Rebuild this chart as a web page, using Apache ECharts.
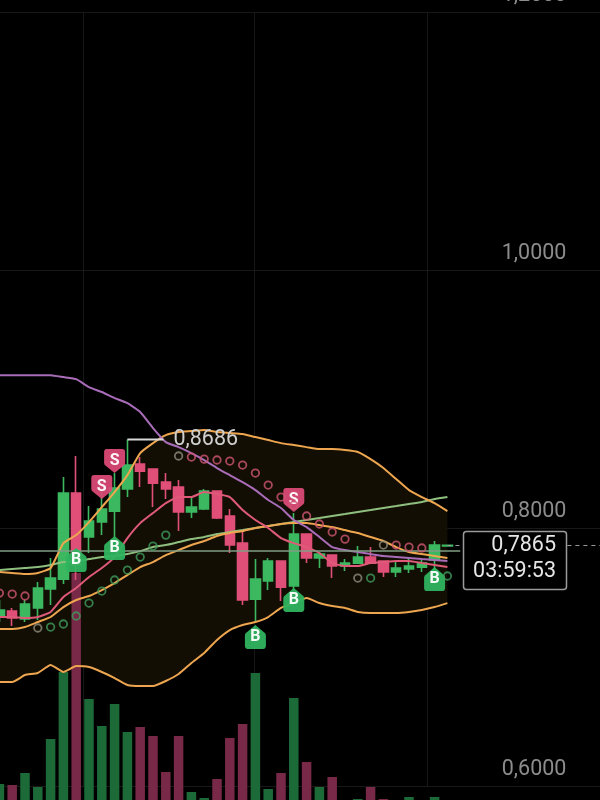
<!DOCTYPE html>
<html>
<head>
<meta charset="utf-8">
<style>html,body{margin:0;padding:0;background:#000;overflow:hidden}#c{width:600px;height:800px;filter:blur(0.6px)}</style>
<script src="https://cdn.jsdelivr.net/npm/echarts@6/dist/echarts.min.js"></script>
</head>
<body>
<div id="c"></div>
<script>
// [open, close, low, high]
const candles = [
[.7310,.7364,.7271,.7442],[.7356,.7302,.7240,.7380],[.7294,.7411,.7271,.7442],[.7380,.7535,.7287,.7581],
[.7527,.7612,.7403,.7767],[.7604,.8271,.7566,.8395],[.8271,.7713,.7597,.8558],[.7930,.8054,.7806,.8170],
[.8046,.8147,.7945,.8294],[.8131,.8310,.7930,.8426],[.8302,.8488,.8240,.8686],[.8496,.8441,.8317,.8550],
[.8457,.8348,.8162,.8457],[.8356,.8302,.8224,.8426],[.8317,.8124,.7976,.8372],[.8124,.8162,.8077,.8240],
[.8147,.8286,.8139,.8302],[.8286,.8077,.8070,.8286],[.8093,.7868,.7806,.8147],[.7883,.7442,.7403,.7969],
[.7449,.7604,.7271,.7759],[.7589,.7744,.7519,.7767],[.7744,.7542,.7434,.7744],[.7550,.7953,.7519,.8116],
[.7953,.7767,.7728,.7953],[.7767,.7798,.7690,.7814],[.7790,.7705,.7612,.7790],[.7705,.7728,.7666,.7759],
[.7728,.7775,.7721,.7860],[.7775,.7728,.7721,.7852],[.7744,.7659,.7620,.7744],[.7659,.7690,.7620,.7736],
[.7682,.7705,.7651,.7767],[.7697,.7728,.7659,.7767],[.7752,.7868,.7674,.7899],[.7860,.7865,.7860,.7868]
];
const volumes = [26,25,37,23,71,138,237,111,84,106,78,83,74,38,74,18,12,31,72,86,137,21,37,112,48,23,33,8,11,23,11,6,13,4,13,3];
const bollUpper = [.7659,.7651,.7643,.7651,.7690,.7883,.7945,.8046,.8162,.8279,.8410,.8581,.8658,.8720,.8744,.8751,.8759,.8744,.8736,.8728,.8705,.8682,.8658,.8643,.8627,.8612,.8612,.8604,.8589,.8534,.8465,.8379,.8294,.8240,.8193,.8131];
const bollMid = [.7217,.7217,.7232,.7271,.7310,.7387,.7442,.7473,.7519,.7573,.7635,.7697,.7736,.7790,.7829,.7868,.7899,.7938,.7961,.7976,.8000,.8015,.8031,.8038,.8038,.8023,.8007,.7984,.7961,.7930,.7899,.7852,.7814,.7798,.7783,.7767];
const bollLower = [.6806,.6806,.6860,.6876,.6938,.6884,.6930,.6922,.6884,.6837,.6783,.6775,.6775,.6814,.6868,.6953,.7031,.7132,.7209,.7248,.7271,.7310,.7380,.7418,.7457,.7418,.7395,.7380,.7349,.7341,.7341,.7341,.7349,.7364,.7387,.7418];
const maPink = [.7310,.7310,.7302,.7310,.7349,.7465,.7535,.7620,.7690,.7775,.7922,.8038,.8116,.8193,.8240,.8240,.8279,.8263,.8240,.8139,.8062,.8000,.7922,.7883,.7852,.7806,.7728,.7705,.7705,.7728,.7736,.7744,.7744,.7728,.7713,.7697];
const maPurple = [.9185,.9185,.9185,.9185,.9185,.9170,.9154,.9092,.9054,.9007,.8968,.8899,.8775,.8666,.8627,.8581,.8527,.8465,.8410,.8356,.8294,.8217,.8155,.8062,.8007,.7930,.7852,.7829,.7814,.7798,.7783,.7775,.7767,.7759,.7752,.7744];
const maGreen = [.7674,.7682,.7690,.7697,.7713,.7736,.7744,.7759,.7775,.7783,.7798,.7821,.7852,.7868,.7891,.7914,.7930,.7953,.7969,.7984,.8000,.8015,.8031,.8046,.8062,.8077,.8093,.8108,.8124,.8139,.8155,.8170,.8186,.8201,.8224,.8240];
const sarRed = [[0,.7496],[1,.7488],[2,.7473],[15,.8550],[16,.8534],[17,.8527],[18,.8519],[19,.8488],[20,.8426],[21,.8333],[22,.8240],[23,.8178],[24,.8093],[25,.8031],[26,.7969],[27,.7914],[31,.7868],[32,.7852],[33,.7845]];
const sarGreen = [[4,.7232],[5,.7256],[6,.7318],[7,.7418],[8,.7511],[9,.7597],[10,.7674],[11,.7775],[12,.7860],[13,.7945],[29,.7612],[35,.7628]];
const sarGray = [[3,.7225],[14,.8558],[28,.7612],[30,.7868]];
const sellSignals = [[9,.8519],[8,.8317],[23,.8217]];
const buySignals = [[6,.7752],[9,.7845],[20,.7155],[23,.7442],[34,.7604]];
const priceTicks = {min:.6, max:1.2, step:.2};
const highLabel = '0,8686';
const highValue = .8686;
const lastPrice = .7865;
const refLevel = .7822;
const lastPriceText = '0,7865';
const countdownText = '03:59:53';
const verticalGrid = [7.03, 20.39, 33.9];
const categories = Array.from({length:48}, (_, i) => String(i));

const UP = '#3bb860', DOWN = '#df4f78', UPV = '#1d6a39', DOWNV = '#772947';
const ORANGE = '#eda64f', PINK = '#df5a78', PURPLE = '#a86cb8', GREENL = '#8fbf7f';
const FONT = 'Roboto, sans-serif';

const shieldDown = 'path://M3 0H19A3 3 0 0 1 22 3V14Q22 16 20 17L11 24L2 17Q0 16 0 14V3A3 3 0 0 1 3 0Z';
const shieldUp = 'path://M11 0L20 7Q22 8 22 10V20A3 3 0 0 1 19 23H3A3 3 0 0 1 0 20V10Q0 8 2 7Z';

function line(name, data, color, z) {
  return {name, type:'line', data, xAxisIndex:0, yAxisIndex:0, showSymbol:false, smooth:0.15,
    lineStyle:{color, width:2}, z, silent:true, animation:false};
}
function rings(data, color) {
  return {type:'scatter', data, xAxisIndex:0, yAxisIndex:0, symbol:'circle', symbolSize:7.5,
    itemStyle:{color:'rgba(0,0,0,0)', borderColor:color, borderWidth:1.8}, z:6, animation:false};
}
function signals(data, symbol, text, color, size) {
  return {type:'scatter', data, xAxisIndex:0, yAxisIndex:0, symbol, symbolSize:size,
    itemStyle:{color, opacity:.95}, z:5, animation:false,
    label:{show:true, position:'inside', formatter:text, color:'#fff', fontFamily:FONT, fontSize:16, fontWeight:'bold'}};
}

const option = {
  backgroundColor:'#000',
  animation:false,
  grid:[
    {left:-7, width:614.4, top:12, height:774, outerBoundsMode:'none'},
    {left:-7, width:614.4, top:560, height:250, outerBoundsMode:'none'}
  ],
  xAxis:[
    {type:'category', gridIndex:0, data:categories, show:false},
    {type:'category', gridIndex:1, data:categories, show:false},
    {type:'value', gridIndex:0, min:0, max:48, position:'top',
      axisLine:{show:false}, axisLabel:{show:false},
      axisTick:{show:false, customValues:verticalGrid},
      splitLine:{show:true, lineStyle:{color:'#181818', width:1}}, z:0}
  ],
  yAxis:[
    {type:'value', gridIndex:0, position:'right', min:priceTicks.min, max:priceTicks.max, interval:priceTicks.step,
      axisLine:{show:false}, axisTick:{show:false},
      splitLine:{show:true, lineStyle:{color:'#181818', width:1}},
      axisLabel:{inside:true, margin:41, align:'right', verticalAlign:'bottom', padding:[0,0,5,0],
        color:'#8c8c8c', fontFamily:FONT, fontSize:21.5,
        formatter:v => v.toFixed(4).replace('.', ',')}},
    {type:'value', gridIndex:1, min:0, max:250, show:false}
  ],
  series:[
    {type:'custom', xAxisIndex:0, yAxisIndex:0, data:[[0,0]], z:1, silent:true, clip:false,
      renderItem:(p, api) => {
        const pts = [];
        bollUpper.forEach((v,i) => pts.push(api.coord([i,v])));
        for (let i = bollLower.length-1; i >= 0; i--) pts.push(api.coord([i,bollLower[i]]));
        return {type:'polygon', shape:{points:pts}, style:{fill:'#130e04'}};
      }},
    {type:'bar', xAxisIndex:1, yAxisIndex:1, barWidth:9.5, z:2, silent:true,
      data:volumes.map((v,i) => ({value:v, itemStyle:{color:candles[i][1] >= candles[i][0] ? UPV : DOWNV}}))},
    {type:'candlestick', xAxisIndex:0, yAxisIndex:0, data:candles, barWidth:10, z:3,
      itemStyle:{color:UP, color0:DOWN, borderColor:UP, borderColor0:DOWN, borderWidth:1.6},
      markLine:{silent:true, symbol:'none', label:{show:false}, animation:false, data:[
        [{coord:[0,refLevel], lineStyle:{color:'#7f9e85', width:1.5, type:'solid'}},{coord:[36,refLevel]}],
        [{coord:[35,lastPrice], lineStyle:{color:'#9a9a9a', width:1, type:[4,4]}},{coord:[47,lastPrice]}]
      ]}},
    line('maGreen', maGreen, GREENL, 4),
    line('bollMid', bollMid, ORANGE, 4),
    line('bollUpper', bollUpper, ORANGE, 4),
    line('bollLower', bollLower, ORANGE, 4),
    line('maPink', maPink, PINK, 4),
    line('maPurple', maPurple, PURPLE, 4),
    rings(sarRed, '#cf5674'),
    rings(sarGreen, '#3f9c5c'),
    rings(sarGray, '#8d8d7d'),
    signals(sellSignals, shieldDown, 'S', '#d94a76', [21,24]),
    signals(buySignals, shieldUp, 'B', '#2fb45f', [21,24]),
    {type:'custom', xAxisIndex:0, yAxisIndex:0, data:[[10,highValue]], z:7, silent:true, clip:false,
      renderItem:(p, api) => {
        const c = api.coord([api.value(0), api.value(1)]);
        return {type:'group', children:[
          {type:'line', shape:{x1:c[0], y1:c[1], x2:c[0]+36, y2:c[1]}, style:{stroke:'#d8d8d8', lineWidth:2}},
          {type:'text', style:{x:c[0]+46, y:c[1], text:highLabel, fill:'#cfcfcf', fontFamily:FONT, fontSize:21.5, verticalAlign:'middle'}}
        ]};
      }}
  ],
  graphic:[
    {type:'rect', z:100, shape:{x:463.5, y:531.5, width:103, height:58, r:3},
      style:{fill:'#000', stroke:'#9a9a9a', lineWidth:1.5}},
    {type:'text', z:101, style:{x:556, y:546, text:lastPriceText, fill:'#e6e6e6', fontFamily:FONT, fontSize:21.5, align:'right', verticalAlign:'middle'}},
    {type:'text', z:101, style:{x:556, y:572, text:countdownText, fill:'#e6e6e6', fontFamily:FONT, fontSize:21.5, align:'right', verticalAlign:'middle'}}
  ]
};
const chart = echarts.init(document.getElementById('c'), null, {renderer:'canvas', width:600, height:800});
chart.setOption(option);
</script>
</body>
</html>
